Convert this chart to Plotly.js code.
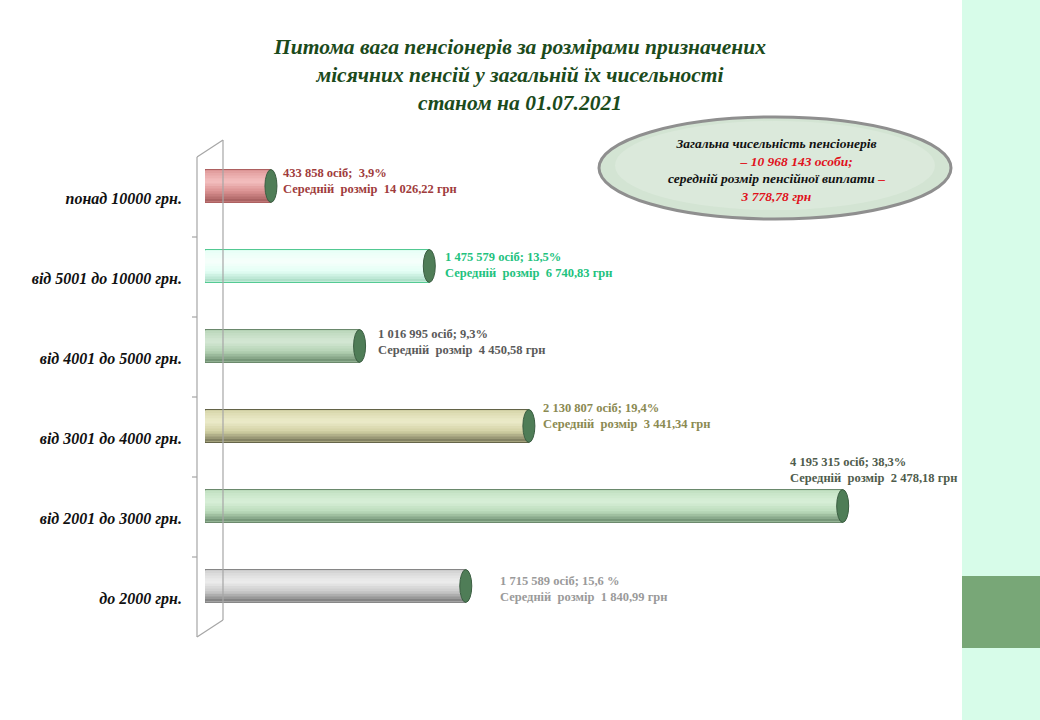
<!DOCTYPE html>
<html>
<head>
<meta charset="utf-8">
<script src="https://cdn.plot.ly/plotly-3.0.1.min.js"></script>
<style>
  html, body { margin: 0; padding: 0; background: #ffffff; }
  #chart { width: 1040px; height: 720px; }
</style>
</head>
<body>
<div id="chart"></div>
<script>
// розподіл пенсіонерів за розміром пенсії, станом на 01.07.2021
const categories = ['до 2000 грн.', 'від 2001 до 3000 грн.', 'від 3001 до 4000 грн.',
                    'від 4001 до 5000 грн.', 'від 5001 до 10000 грн.', 'понад 10000 грн.'];
const persons = [1715589, 4195315, 2130807, 1016995, 1475579, 433858];
const shares = ['15,6 %', '38,3%', '19,4%', '9,3%', '13,5%', ' 3,9%'];
const avgSize = ['1 840,99', '2 478,18', '3 441,34', '4 450,58', '6 740,83', '14 026,22'];
const totalPersons = '10 968 143';
const totalAvg = '3 778,78';

// кольори циліндрів
const barColors   = ['#cbcbcb', '#bcdcbc', '#d2d1a4', '#b5d3b5', '#e4fff5', '#da9191'];
const edgeColors  = ['#7c7c7c', '#5e7e60', '#55553a', '#5e7e60', '#42c487', '#a65656'];
const lightColors = ['#eeeeee', '#d8f0d8', '#ecebca', '#d4e8d4', '#f6fffb', '#f4c0c0'];
const darkColors  = ['#7a7a7a', '#6d8d6f', '#77765a', '#6d8d6f', '#a8dcc4', '#a35c5c'];
const labelColors = ['#9a9a9a', '#4f5c4c', '#8b8a52', '#5a5a5a', '#22c27e', '#a03c3c'];

// позиції підписів (пікселі від кінця стовпця)
const lblDx = [32, -55, 12, 16, 14, 10];
const lblDy = [-3, 36, 10, 4, 1, 5];

const L = 205, T = 146, W = 757, H = 480;   // область побудови
const pxPerUnit = 152 / 1e6;
const xMax = W / pxPerUnit;
const capHalf = 6 / pxPerUnit;
const halfBar = 0.205;
const serif = 'Liberation Serif, Times New Roman, serif';

function fmt(n) {
  return String(n).replace(/\B(?=(\d{3})+(?!\d))/g, ' ');
}
function px(x) { return (x - L) / W; }
function py(y) { return (T + H - y) / H; }
function hex2rgb(h) { return [1, 3, 5].map(k => parseInt(h.substr(k, 2), 16)); }
function mix(a, b, t) {
  const A = hex2rgb(a), B = hex2rgb(b);
  return 'rgb(' + A.map((v, k) => Math.round(v + (B[k] - v) * t)).join(',') + ')';
}

const idx = categories.map((c, i) => i);

const traces = [
  { type: 'bar', orientation: 'h', y: idx, x: persons, width: 2 * halfBar,
    marker: { color: barColors, line: { color: edgeColors, width: 1 } } }
];

// тіньові смуги циліндра (знизу вгору), з перекриттям
const bands = 12;
const bandH = (2 * halfBar - 0.02) / bands;
for (let b = 0; b < bands; b++) {
  const t = (b + 0.5) / bands;
  let cols;
  if (t < 0.65) {
    const s = t / 0.65;
    cols = barColors.map((c, i) => s < 0.5 ? mix(darkColors[i], c, s * 2) : mix(c, lightColors[i], (s - 0.5) * 2));
  } else {
    const s = (t - 0.65) / 0.35;
    cols = barColors.map((c, i) => mix(lightColors[i], c, s * 0.8));
  }
  const h = b < bands - 1 ? bandH * 1.6 : bandH;
  traces.push({ type: 'bar', orientation: 'h', y: idx, x: persons, width: h,
    offset: -halfBar + 0.01 + b * bandH,
    marker: { color: cols, line: { width: 0 } } });
}

const shapes = [];
// права панель
shapes.push({ type: 'rect', xref: 'paper', yref: 'paper', x0: px(962), x1: px(1040), y0: py(720), y1: py(0),
  fillcolor: '#d7fce9', line: { width: 0 }, layer: 'below' });
shapes.push({ type: 'rect', xref: 'paper', yref: 'paper', x0: px(962), x1: px(1040), y0: py(648), y1: py(576),
  fillcolor: '#78a777', line: { width: 0 }, layer: 'below' });

// 3D рамка осі
const axisLine = { color: '#a6a6a6', width: 1.2 };
shapes.push({ type: 'line', xref: 'paper', yref: 'paper', x0: px(197), x1: px(197), y0: py(157), y1: py(637), line: axisLine });
shapes.push({ type: 'line', xref: 'paper', yref: 'paper', x0: px(197), x1: px(223), y0: py(157), y1: py(140), line: axisLine });
shapes.push({ type: 'line', xref: 'paper', yref: 'paper', x0: px(197), x1: px(223), y0: py(637), y1: py(620), line: axisLine });
shapes.push({ type: 'line', xref: 'paper', yref: 'paper', x0: px(223), x1: px(223), y0: py(140), y1: py(620), line: axisLine });
for (let k = 1; k < categories.length; k++) {
  const yy = 157 + k * 80;
  shapes.push({ type: 'line', xref: 'paper', yref: 'paper', x0: px(192), x1: px(197), y0: py(yy), y1: py(yy), line: axisLine });
}

// торці циліндрів
persons.forEach((v, i) => {
  shapes.push({ type: 'circle', xref: 'x', yref: 'y', x0: v - capHalf, x1: v + capHalf,
    y0: i - halfBar, y1: i + halfBar, fillcolor: '#4f7d57', line: { color: '#3b5e42', width: 1 } });
});

// овал з підсумками
shapes.push({ type: 'circle', xref: 'paper', yref: 'paper', x0: px(599), x1: px(951), y0: py(219), y1: py(117),
  fillcolor: '#d3e4d3', line: { color: '#8f8f8f', width: 3 } });
shapes.push({ type: 'circle', xref: 'paper', yref: 'paper', x0: px(615), x1: px(935), y0: py(210), y1: py(121),
  fillcolor: '#dbe9db', line: { width: 0 } });

const annotations = persons.map((v, i) => ({
  xref: 'x', yref: 'y', x: v, y: i, xanchor: 'left', yanchor: 'middle',
  xshift: lblDx[i], yshift: lblDy[i], showarrow: false, align: 'left',
  text: fmt(v) + ' осіб; ' + shares[i].replace(/^ /, '&nbsp;') + '<br>Середній&nbsp; розмір&nbsp; ' + avgSize[i] + ' грн',
  font: { family: serif, size: 12.5, weight: 'bold', color: labelColors[i] }
}));

annotations.push({
  xref: 'paper', yref: 'paper', x: px(776), y: py(170), xanchor: 'center', yanchor: 'middle',
  showarrow: false, align: 'center',
  text: 'Загальна чисельність пенсіонерів<br>' +
        '&nbsp;&nbsp;&nbsp;&nbsp;&nbsp;&nbsp;&nbsp;&nbsp;&nbsp;&nbsp;&nbsp;&nbsp;<span style="color:#e0121b">– ' + totalPersons + ' особи;</span><br>' +
        'середній розмір пенсійної виплати <span style="color:#e0121b">–</span><br>' +
        '<span style="color:#e0121b">' + totalAvg + ' грн</span>',
  font: { family: serif, size: 13.5, weight: 'bold', style: 'italic', color: '#111111' }
});

const layout = {
  width: 1040, height: 720,
  margin: { l: L, r: 1040 - L - W, t: T, b: 720 - T - H },
  paper_bgcolor: '#ffffff', plot_bgcolor: 'rgba(0,0,0,0)',
  showlegend: false, hovermode: false, barmode: 'overlay',
  title: {
    text: 'Питома вага пенсіонерів за розмірами призначених<br>місячних пенсій у загальній їх чисельності<br>станом на 01.07.2021',
    x: 0.5, xanchor: 'center', y: 0.925, yanchor: 'top',
    font: { family: serif, size: 21.5, weight: 'bold', style: 'italic', color: '#1b4a1b' }
  },
  xaxis: { range: [0, xMax], showticklabels: false, showgrid: false, zeroline: false, showline: false, ticks: '' },
  yaxis: {
    range: [-0.5, categories.length - 0.5], tickmode: 'array', tickvals: idx, ticktext: categories,
    showgrid: false, zeroline: false, showline: false, ticks: '',
    ticklabelstandoff: 22, ticklabelshift: 12,
    tickfont: { family: serif, size: 16, weight: 'bold', style: 'italic', color: '#111111' }
  },
  shapes: shapes,
  annotations: annotations
};

Plotly.newPlot('chart', traces, layout, { staticPlot: true });
</script>
</body>
</html>
